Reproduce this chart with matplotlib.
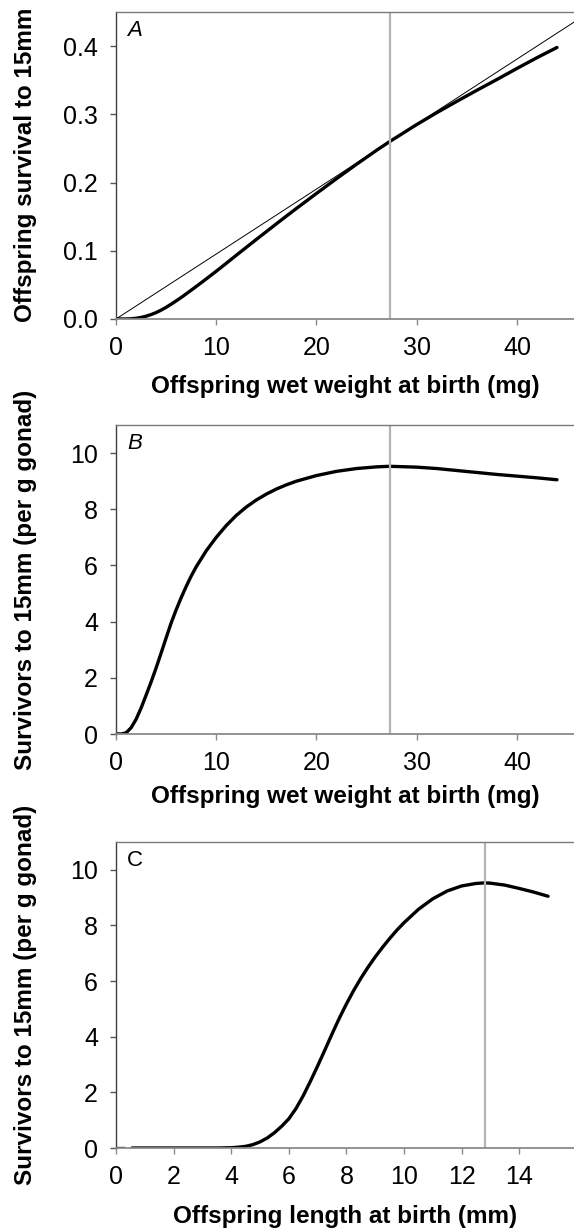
import numpy as np
import matplotlib
matplotlib.use("Agg")
from matplotlib import pyplot as plt

plt.rcParams['font.family'] = ['Liberation Sans', 'DejaVu Sans']

# Panel A: survival to 15mm vs wet weight (mg)
weight = [0, 1, 1.5, 2, 2.5, 3, 3.5, 4, 4.5, 5, 5.5, 6, 6.5, 7, 7.5, 8, 9, 10,
          11, 12, 13, 14, 15, 16, 17, 18, 20, 22, 24, 26, 27.3, 30, 32, 34, 36,
          38, 40, 42, 44]
survival = [0, 0.00004, 0.0003, 0.001, 0.0023, 0.0041, 0.0065, 0.0094, 0.013,
            0.0171, 0.0217, 0.0265, 0.0315, 0.0368, 0.0422, 0.0476, 0.0587, 0.070,
            0.0816, 0.0934, 0.105, 0.1166, 0.128, 0.1395, 0.1508, 0.162, 0.184,
            0.2057, 0.2268, 0.2473, 0.260, 0.285, 0.3024, 0.319, 0.3352, 0.351,
            0.3672, 0.383, 0.398]
tangent_x = [0, 46]
tangent_y = [0, 0.438]

# Panel B: survivors per g gonad vs wet weight (mg)
weight_b = [0, 0.5, 1, 1.5, 2, 2.5, 3, 3.5, 4, 4.5, 5, 5.5, 6, 6.5, 7, 7.5, 8,
            9, 10, 11, 12, 13, 14, 15, 16, 17, 18, 20, 22, 24, 26, 27.3, 30, 32,
            34, 36, 38, 40, 42, 44]
survivors_b = [0, 0.0, 0.04, 0.22, 0.52, 0.92, 1.38, 1.85, 2.35, 2.88, 3.42,
               3.95, 4.42, 4.85, 5.25, 5.62, 5.95, 6.52, 7.0, 7.42, 7.78, 8.08,
               8.33, 8.54, 8.72, 8.87, 9.0, 9.2, 9.35, 9.45, 9.51, 9.53, 9.5,
               9.45, 9.38, 9.31, 9.24, 9.18, 9.12, 9.05]

# Panel C: survivors per g gonad vs length (mm)
length_c = [0.56, 1, 2, 3, 3.5, 4, 4.25, 4.5, 4.75, 5, 5.25, 5.5, 5.75, 6, 6.25,
            6.5, 6.75, 7, 7.25, 7.5, 7.75, 8, 8.25, 8.5, 8.75, 9, 9.25, 9.5,
            9.75, 10, 10.5, 11, 11.5, 12, 12.5, 12.8, 13, 13.5, 14, 14.5, 15]
survivors_c = [0, 0, 0, 0, 0, 0.01, 0.03, 0.06, 0.12, 0.22, 0.36, 0.55, 0.78,
               1.05, 1.42, 1.88, 2.4, 2.95, 3.52, 4.1, 4.66, 5.18, 5.66, 6.1, 6.5,
               6.87, 7.21, 7.53, 7.83, 8.1, 8.58, 8.96, 9.24, 9.42, 9.51, 9.53,
               9.52, 9.45, 9.33, 9.2, 9.05]
stub_x = [0, 0.25]
stub_y = [0, 0]

optimum_weight = 27.3
optimum_length = 12.8

fig = plt.figure(figsize=(5.74, 12.32), dpi=100)
W, H = 574, 1232
left = 116


def make_ax(top, bottom):
    ax = fig.add_axes([left / W, 1 - bottom / H, 1 - left / W, (bottom - top) / H])
    ax.spines['right'].set_visible(False)
    ax.spines['top'].set_color('#7a7a7a')
    ax.spines['top'].set_linewidth(1.0)
    ax.spines['bottom'].set_color('#8a8a8a')
    ax.spines['bottom'].set_linewidth(1.3)
    ax.spines['left'].set_color('#404040')
    ax.spines['left'].set_linewidth(1.0)
    ax.tick_params(axis='x', direction='out', length=4.5, width=1, color='#8a8a8a',
                   labelsize=18, pad=7.5)
    ax.tick_params(axis='y', direction='out', length=4.5, width=1, color='#555555',
                   labelsize=18, pad=8.5)
    return ax


# A
axA = make_ax(12, 319)
axA.plot(tangent_x, tangent_y, color='black', lw=0.7)
axA.plot(weight, survival, color='black', lw=2.4, solid_capstyle='round')
axA.axvline(optimum_weight, color='#b4b4b4', lw=1.6)
axA.set_xlim(0, 45.7)
axA.set_ylim(0, 0.45)
axA.set_xticks([0, 10, 20, 30, 40])
axA.set_yticks([0, 0.1, 0.2, 0.3, 0.4])
axA.set_yticklabels(['0.0', '0.1', '0.2', '0.3', '0.4'])
axA.text(0.024, 0.975, 'A', transform=axA.transAxes, fontsize=16, style='italic',
         va='top', ha='left')

# B
axB = make_ax(425, 734)
axB.plot(weight_b, survivors_b, color='black', lw=2.4, solid_capstyle='round')
axB.axvline(optimum_weight, color='#b4b4b4', lw=1.6)
axB.set_xlim(0, 45.7)
axB.set_ylim(0, 11)
axB.set_xticks([0, 10, 20, 30, 40])
axB.set_yticks([0, 2, 4, 6, 8, 10])
axB.text(0.024, 0.975, 'B', transform=axB.transAxes, fontsize=16, style='italic',
         va='top', ha='left')

# C
axC = make_ax(842, 1148)
axC.plot(stub_x, stub_y, color='black', lw=2.4)
axC.plot(length_c, survivors_c, color='black', lw=2.4, solid_capstyle='round')
axC.axvline(optimum_length, color='#b4b4b4', lw=1.6)
axC.set_xlim(0, 15.9)
axC.set_ylim(0, 11)
axC.set_xticks([0, 2, 4, 6, 8, 10, 12, 14])
axC.set_yticks([0, 2, 4, 6, 8, 10])
axC.text(0.024, 0.975, 'C', transform=axC.transAxes, fontsize=16,
         va='top', ha='left')

# axis labels
xcen = (left + W) / 2 / W
fig.text(xcen, 1 - 386 / H, 'Offspring wet weight at birth (mg)', ha='center',
         va='center', fontsize=17.5, fontweight='bold')
fig.text(xcen, 1 - 797 / H, 'Offspring wet weight at birth (mg)', ha='center',
         va='center', fontsize=17.5, fontweight='bold')
fig.text(xcen, 1 - 1216 / H, 'Offspring length at birth (mm)', ha='center',
         va='center', fontsize=17.5, fontweight='bold')

fig.text(26 / W, 1 - 165 / H, 'Offspring survival to 15mm', rotation=90,
         ha='center', va='center', fontsize=17.5, fontweight='bold')
fig.text(26 / W, 1 - 580 / H, 'Survivors to 15mm (per g gonad)', rotation=90,
         ha='center', va='center', fontsize=17.5, fontweight='bold')
fig.text(26 / W, 1 - 995 / H, 'Survivors to 15mm (per g gonad)', rotation=90,
         ha='center', va='center', fontsize=17.5, fontweight='bold')

fig.savefig('out.png', dpi=100)
